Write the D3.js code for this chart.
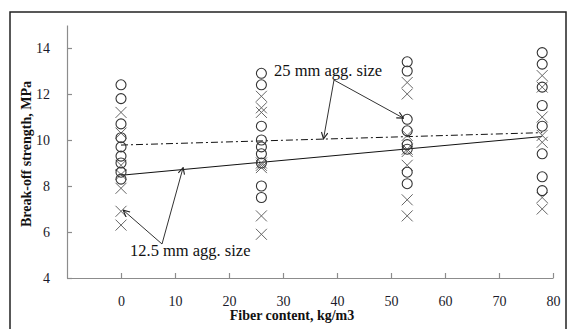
<!DOCTYPE html>
<html><head><meta charset="utf-8">
<script src="https://cdn.jsdelivr.net/npm/d3@7"></script>
<style>
html,body{margin:0;padding:0;background:#fff;}
svg{display:block;font-family:"Liberation Serif","Times New Roman",serif;}
</style></head>
<body>
<svg id="c" width="568" height="329"></svg>
<script>
// ---- data ----
const fiberLevels = [0, 26, 53, 78];
const xTicks = [0, 10, 20, 30, 40, 50, 60, 70, 80];
const yTicks = [4, 6, 8, 10, 12, 14];
// 25 mm agg. size (circles)
const agg25_x0  = [12.4, 11.8, 10.7, 10.1, 9.7, 9.3, 9.0, 8.6, 8.3];
const agg25_x26 = [12.9, 12.4, 10.6, 10.0, 9.7, 9.4, 9.0, 8.0, 7.5];
const agg25_x53 = [13.4, 13.0, 10.9, 10.4, 9.8, 9.6, 8.6, 8.1];
const agg25_x78 = [13.8, 13.3, 12.3, 11.5, 10.6, 9.4, 8.4, 7.8];
// 12.5 mm agg. size (crosses)
const agg12_x0  = [11.2, 10.3, 8.9, 8.5, 7.9, 6.9, 6.3];
const agg12_x26 = [11.9, 11.4, 11.2, 9.0, 8.9, 8.8, 6.7, 5.9];
const agg12_x53 = [12.5, 12.0, 10.2, 9.6, 9.5, 8.9, 7.4, 6.7];
const agg12_x78 = [12.8, 12.3, 11.0, 10.2, 9.9, 7.5, 7.0];
// trend lines [x, y]
const trend12 = [[0, 8.47], [78, 10.15]];
const trend25 = [[0, 9.78], [78, 10.32]];
const label25 = "25 mm agg. size";
const label12 = "12.5 mm agg. size";
const xTitle = "Fiber content, kg/m3";
const yTitle = "Break-off strength, MPa";

// ---- build ----
const svg = d3.select("#c");
const x = d3.scaleLinear().domain([-10, 80]).range([67, 553]);
const y = d3.scaleLinear().domain([4, 15]).range([278, 25]);

svg.append("rect").attr("x", 10).attr("y", 12).attr("width", 556).attr("height", 340)
  .attr("fill", "none").attr("stroke", "#222").attr("stroke-width", 1.5);

const axisColor = "#8c8c8c";
const gx = svg.append("g").attr("transform", `translate(0,${y(4)})`)
  .call(d3.axisBottom(x).tickValues(xTicks).tickSizeInner(-5).tickSizeOuter(0).tickPadding(18));
const gy = svg.append("g").attr("transform", `translate(${x(-10)},0)`)
  .call(d3.axisLeft(y).tickValues(yTicks).tickSizeInner(-5).tickSizeOuter(0).tickPadding(17));
[gx, gy].forEach(g => {
  g.select(".domain").attr("stroke", axisColor).attr("stroke-width", 1.2);
  g.selectAll(".tick line").attr("stroke", axisColor).attr("stroke-width", 1.2);
  g.selectAll(".tick text").attr("fill", "#1a1a2a")
    .style("font-family", '"Liberation Serif","Times New Roman",serif').style("font-size", "14px");
});

// trend lines
const line = d3.line().x(d => x(d[0])).y(d => y(d[1]));
svg.append("path").datum(trend12).attr("d", line).attr("fill", "none")
  .attr("stroke", "#111").attr("stroke-width", 1.1);
svg.append("path").datum(trend25).attr("d", line).attr("fill", "none")
  .attr("stroke", "#111").attr("stroke-width", 1).attr("stroke-dasharray", "7,3,2,3");

// points
const circ = [agg25_x0, agg25_x26, agg25_x53, agg25_x78];
const cross = [agg12_x0, agg12_x26, agg12_x53, agg12_x78];
const pts25 = [], pts12 = [];
fiberLevels.forEach((f, i) => {
  circ[i].forEach(v => pts25.push([f, v]));
  cross[i].forEach(v => pts12.push([f, v]));
});
svg.append("g").selectAll("path").data(pts12).join("path")
  .attr("transform", d => `translate(${x(d[0])},${y(d[1])})`)
  .attr("d", "M-5.5,-5.5L5.5,5.5M-5.5,5.5L5.5,-5.5")
  .attr("stroke", "#666").attr("stroke-width", 1).attr("fill", "none");
svg.append("g").selectAll("circle").data(pts25).join("circle")
  .attr("cx", d => x(d[0])).attr("cy", d => y(d[1])).attr("r", 5)
  .attr("fill", "none").attr("stroke", "#333").attr("stroke-width", 1.1);

// arrow marker
svg.append("defs").append("marker").attr("id", "ah")
  .attr("viewBox", "0 0 10 10").attr("refX", 9).attr("refY", 5)
  .attr("markerWidth", 8).attr("markerHeight", 8).attr("orient", "auto")
  .attr("markerUnits", "userSpaceOnUse")
  .append("path").attr("d", "M1,1L9,5L1,9").attr("fill", "none")
  .attr("stroke", "#222").attr("stroke-width", 1.4);

function arrow(x1, y1, x2, y2) {
  svg.append("line").attr("x1", x1).attr("y1", y1).attr("x2", x2).attr("y2", y2)
    .attr("stroke", "#333").attr("stroke-width", 1).attr("marker-end", "url(#ah)");
}
// annotation 25 mm
arrow(334, 80, x(37.5), y(10.05));
arrow(334, 80, x(52.3), y(10.95));
svg.append("text").attr("x", 274).attr("y", 76).attr("font-size", 16.5).attr("fill", "#111").text(label25);
// annotation 12.5 mm
arrow(162, 244, x(0.4), y(6.95));
arrow(162, 244, x(11.5), y(8.8));
svg.append("text").attr("x", 130).attr("y", 256).attr("font-size", 16.5).attr("fill", "#111").text(label12);

// titles
svg.append("text").attr("x", 292).attr("y", 320).attr("text-anchor", "middle")
  .attr("font-size", 14).attr("font-weight", "bold").attr("fill", "#111").text(xTitle);
svg.append("text").attr("transform", "translate(31,154) rotate(-90)").attr("text-anchor", "middle")
  .attr("font-size", 14).attr("font-weight", "bold").attr("fill", "#111").text(yTitle);
</script>
</body></html>
